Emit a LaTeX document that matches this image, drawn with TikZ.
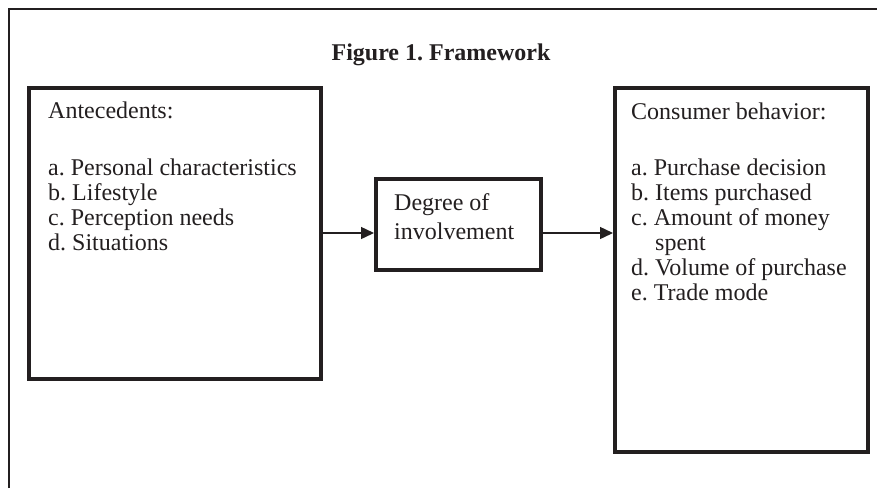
\documentclass[tikz,border=0pt]{standalone}
\usepackage{fontspec}
\setmainfont{Liberation Serif}
\usetikzlibrary{arrows.meta}
\definecolor{ink}{RGB}{35,31,32}
\frenchspacing
\begin{document}
\begin{tikzpicture}[x=1pt,y=-1pt,
  box/.style={draw=ink,line width=4pt,minimum width=#1,inner sep=0pt},
  txt/.style={anchor=base west,inner sep=0pt,align=left,text=ink,font=\frenchspacing\fontsize{24}{25}\selectfont},
  arr/.style={draw=ink,line width=1.4pt,-{Triangle[length=13pt,width=12pt]}}]
\useasboundingbox (0,0) rectangle (877,488);
\fill[white] (0,0) rectangle (877,488);
\coordinate (ftl) at (9,9);
\coordinate (ftr) at (877,9);
\coordinate (fbl) at (9,488);
\draw[ink,line width=2.2pt] (fbl) -- (ftl) -- (ftr);
\node[anchor=base,inner sep=0pt,text=ink,font=\frenchspacing\fontsize{24}{25}\selectfont\bfseries] (title) at (441,60) {Figure 1. Framework};
\node[box=292pt,minimum height=291pt] (ante) at (175,233.5) {};
\node[box=165pt,minimum height=91pt] (mid) at (458.5,224.5) {};
\node[box=253pt,minimum height=364pt] (cons) at (741.5,270) {};
\node[txt] (antetxt) at (48,250) {Antecedents:\\[32pt]a. Personal characteristics\\b. Lifestyle\\c. Perception needs\\d. Situations};
\node[txt,font=\frenchspacing\fontsize{24}{29}\selectfont] (midtxt) at (394,239) {Degree of\\involvement};
\node[txt] (constxt) at (631,300) {Consumer behavior:\\[31pt]a. Purchase decision\\b. Items purchased\\c. Amount of money\\\hspace*{24pt}spent\\d. Volume of purchase\\e. Trade mode};
\draw[arr] (ante.east |- 0,233) -- (mid.west |- 0,233);
\draw[arr] (mid.east |- 0,233) -- (cons.west |- 0,233);
\end{tikzpicture}
\end{document}
